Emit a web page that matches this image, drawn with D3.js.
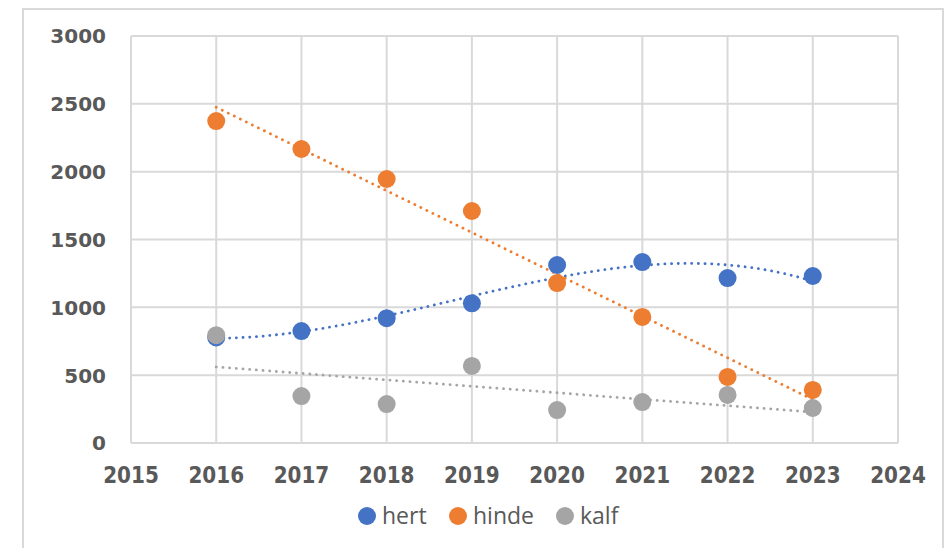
<!DOCTYPE html>
<html>
<head>
<meta charset="utf-8">
<script src="https://cdn.jsdelivr.net/npm/d3@7"></script>
<style>
  html, body { margin: 0; padding: 0; background: #fff; }
  svg { display: block; }
</style>
</head>
<body>
<div id="chart"></div>
<script>
// data
const years = [2016, 2017, 2018, 2019, 2020, 2021, 2022, 2023];
const hert  = [778, 825, 920, 1030, 1312, 1334, 1216, 1231];
const hinde = [2373, 2167, 1946, 1710, 1179, 929, 487, 391];
const kalf  = [795, 346, 287, 568, 243, 302, 354, 258];
const xTicks = [2015, 2016, 2017, 2018, 2019, 2020, 2021, 2022, 2023, 2024];
const yTicks = [0, 500, 1000, 1500, 2000, 2500, 3000];

const series = [
    {name: 'hert', values: hert, color: '#4472C4', trend: 3},
    {name: 'hinde', values: hinde, color: '#ED7D31', trend: 1},
    {name: 'kalf', values: kalf, color: '#A5A5A5', trend: 1}
];

// least squares polynomial fit (like an Excel trendline)
function polyFit(xs, ys, order) {
    const n = order + 1;
    const A = Array.from({length: n}, () => new Array(n + 1).fill(0));
    xs.forEach((x, k) => {
        for (let i = 0; i < n; i++) {
            for (let j = 0; j < n; j++) A[i][j] += Math.pow(x, i + j);
            A[i][n] += ys[k] * Math.pow(x, i);
        }
    });
    for (let i = 0; i < n; i++) {
        let p = i;
        for (let r = i + 1; r < n; r++) if (Math.abs(A[r][i]) > Math.abs(A[p][i])) p = r;
        [A[i], A[p]] = [A[p], A[i]];
        for (let r = 0; r < n; r++) {
            if (r === i) continue;
            const f = A[r][i] / A[i][i];
            for (let c = i; c <= n; c++) A[r][c] -= f * A[i][c];
        }
    }
    const coef = A.map((row, i) => row[n] / row[i]);
    return x => coef.reduce((s, c, i) => s + c * Math.pow(x, i), 0);
}

const W = 949, H = 548;
const margin = {top: 36, right: 51, bottom: 105, left: 131};
const width = W - margin.left - margin.right;
const height = H - margin.top - margin.bottom;

const svgRoot = d3.select('#chart').append('svg')
    .attr('width', W).attr('height', H);

svgRoot.append('rect')
    .attr('x', 23).attr('y', 9)
    .attr('width', 920).attr('height', 560)
    .attr('fill', '#fff')
    .attr('stroke', '#d9d9d9')
    .attr('stroke-width', 2);

const svg = svgRoot.append('g')
    .attr('transform', `translate(${margin.left},${margin.top})`);

const x = d3.scaleLinear().domain([2015, 2024]).range([0, width]);
const y = d3.scaleLinear().domain([0, 3000]).range([height, 0]);

// grid
svg.selectAll('.hgrid')
    .data(yTicks)
    .enter()
    .append('line')
    .attr('x1', 0).attr('x2', width)
    .attr('y1', d => y(d)).attr('y2', d => y(d))
    .attr('stroke', '#d9d9d9')
    .attr('stroke-width', 2);

svg.selectAll('.vgrid')
    .data(xTicks)
    .enter()
    .append('line')
    .attr('x1', d => x(d)).attr('x2', d => x(d))
    .attr('y1', 0).attr('y2', height)
    .attr('stroke', '#d9d9d9')
    .attr('stroke-width', 2);

// tick labels
svg.selectAll('.y-label')
    .data(yTicks)
    .enter()
    .append('text')
    .attr('x', -25)
    .attr('y', d => y(d))
    .attr('dy', '0.37em')
    .attr('text-anchor', 'end')
    .attr('font-family', 'DejaVu Sans')
    .attr('font-weight', 'bold')
    .attr('font-size', '20px')
    .attr('fill', '#595959')
    .text(d => d);

svg.selectAll('.x-label')
    .data(xTicks)
    .enter()
    .append('text')
    .attr('transform', d => `translate(${x(d)},${height + 40}) scale(1,1.12)`)
    .attr('text-anchor', 'middle')
    .attr('font-family', 'DejaVu Sans')
    .attr('font-weight', 'bold')
    .attr('font-size', '20px')
    .attr('fill', '#595959')
    .text(d => d);

// trendlines
const line = d3.line().x(d => x(d[0])).y(d => y(d[1]));
series.forEach(s => {
    const xs = years.map(v => v - 2016);
    const f = polyFit(xs, s.values, s.trend);
    const pts = d3.range(0, 7.001, 0.05).map(t => [2016 + t, f(t)]);
    svg.append('path')
        .datum(pts)
        .attr('d', line)
        .attr('fill', 'none')
        .attr('stroke', s.color)
        .attr('stroke-width', 2.8)
        .attr('stroke-linecap', 'round')
        .attr('stroke-dasharray', '0.1,6.6');
});

// points
series.forEach(s => {
    svg.selectAll(null)
        .data(years.map((yr, i) => ({year: yr, value: s.values[i]})))
        .enter()
        .append('circle')
        .attr('cx', d => x(d.year))
        .attr('cy', d => y(d.value))
        .attr('r', 9)
        .attr('fill', s.color);
});

// legend
const legendX = [367, 458, 565];
const legend = svgRoot.selectAll('.legend')
    .data(series)
    .enter()
    .append('g')
    .attr('transform', (d, i) => `translate(${legendX[i]},516)`);

legend.append('circle')
    .attr('r', 9)
    .attr('fill', d => d.color);

legend.append('text')
    .attr('x', 15)
    .attr('dy', '0.35em')
    .attr('font-family', 'Open Sans')
    .attr('font-size', '23px')
    .attr('fill', '#595959')
    .text(d => d.name);
</script>
</body>
</html>
